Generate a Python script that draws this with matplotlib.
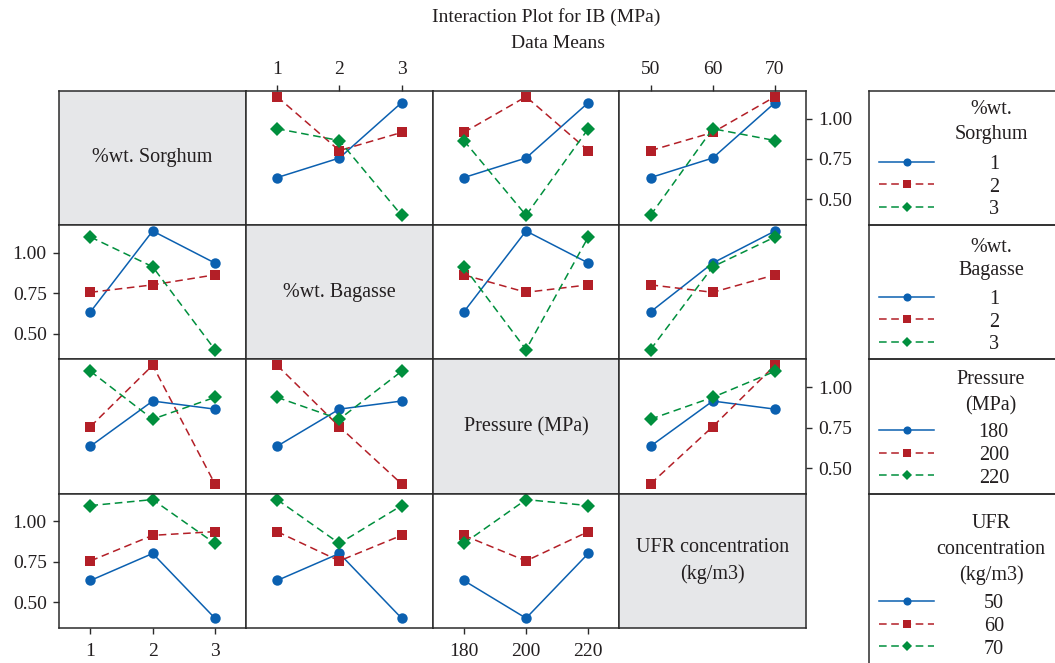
import pandas as pd
import matplotlib.pyplot as plt
from matplotlib.lines import Line2D

plt.rcParams['font.family'] = ['Liberation Serif', 'DejaVu Serif']

# L9 runs: factor levels and IB response (MPa)
sorghum = [1, 1, 1, 2, 2, 2, 3, 3, 3]
bagasse = [1, 2, 3, 1, 2, 3, 1, 2, 3]
pressure = [180, 200, 220, 200, 220, 180, 220, 180, 200]
ufr = [50, 60, 70, 70, 50, 60, 60, 70, 50]
ib = [0.635, 0.756, 1.098, 1.135, 0.802, 0.914, 0.937, 0.864, 0.402]

factor_cols = ["sorghum", "bagasse", "pressure", "ufr"]
factor_names = ["%wt. Sorghum", "%wt. Bagasse", "Pressure (MPa)",
                "UFR concentration\n(kg/m3)"]
legend_titles = ["%wt.\nSorghum", "%wt.\nBagasse", "Pressure\n(MPa)",
                 "UFR\nconcentration\n(kg/m3)"]
levels = {"sorghum": [1, 2, 3], "bagasse": [1, 2, 3],
          "pressure": [180, 200, 220], "ufr": [50, 60, 70]}

df = pd.DataFrame({"sorghum": sorghum, "bagasse": bagasse,
                   "pressure": pressure, "ufr": ufr, "ib": ib})

colors = ["#0b60b0", "#b31f27", "#008f3d"]
markers = ["o", "s", "D"]
styles = ["-", (0, (5, 3)), (0, (5, 3))]
msizes = [7.5, 7.5, 7.0]

W, H = 1055, 663
fig = plt.figure(figsize=(W / 100, H / 100), dpi=100)

x0, y0 = 59.3, 90.7
cw, rh = 186.7, 134.3
ylim = (0.342, 1.172)
text_col = "#231f20"

for i, rf in enumerate(factor_cols):
    for j, cf in enumerate(factor_cols):
        ax = fig.add_axes([(x0 + j * cw) / W, 1 - (y0 + (i + 1) * rh) / H,
                           cw / W, rh / H])
        for s in ax.spines.values():
            s.set_color("#2b2b2b")
            s.set_linewidth(1.1)
        ax.set_xlim(0.5, 3.5)
        ax.set_ylim(*ylim)
        ax.tick_params(direction="out", length=4, width=1, colors="#2b2b2b",
                       labelcolor=text_col, labelsize=14, pad=5)
        ax.set_xticks([]); ax.set_yticks([])
        if i == j:
            ax.set_facecolor("#e6e7e9")
            ax.text(0.5, 0.5, factor_names[i], transform=ax.transAxes,
                    ha="center", va="center", fontsize=14.5, color=text_col,
                    linespacing=1.5)
        else:
            means = df.groupby([rf, cf])["ib"].mean()
            for k, lv in enumerate(levels[rf]):
                yv = [means[(lv, c)] for c in levels[cf]]
                ax.plot([1, 2, 3], yv, color=colors[k], ls=styles[k],
                        lw=1.1, marker=markers[k], ms=msizes[k],
                        markeredgewidth=0)
        # x ticks on outer edges, alternating
        if i == 3 and j in (0, 2):
            ax.set_xticks([1, 2, 3], [str(v) for v in levels[cf]])
            ax.tick_params(axis="x", pad=7)
        if i == 0 and j in (1, 3):
            ax.set_xticks([1, 2, 3], [str(v) for v in levels[cf]])
            ax.xaxis.tick_top()
        if j == 0 and i in (1, 3):
            ax.set_yticks([0.5, 0.75, 1.0], ["0.50", "0.75", "1.00"])
        if j == 3 and i in (0, 2):
            ax.set_yticks([0.5, 0.75, 1.0], ["0.50", "0.75", "1.00"])
            ax.yaxis.tick_right()

# legend panel
lx = 869
leg_title_y = [[109, 134], [247.5, 271], [380, 405.5],
               [524, 549, 575]]
leg_entry_y = [161.7, 296.7, 430, 601]
text_pads = [2.7, 2.7, 2.2, 2.45]
for i in range(4):
    top = y0 + i * rh
    bot = top + rh if i < 3 else H + 20
    lax = fig.add_axes([lx / W, 1 - bot / H, (1130 - lx) / W, (bot - top) / H])
    lax.set_xticks([]); lax.set_yticks([])
    lax.patch.set_alpha(0)
    for s in lax.spines.values():
        s.set_color("#2b2b2b")
        s.set_linewidth(1.1)
    for t, yy in zip(legend_titles[i].split("\n"), leg_title_y[i]):
        fig.text(991 / W, 1 - yy / H, t, ha="center", va="center",
                 fontsize=14.5, color=text_col)
    handles = [Line2D([], [], color=colors[k], ls=styles[k], lw=1.1,
                      marker=markers[k], ms=msizes[k] * 0.78,
                      markeredgewidth=0) for k in range(3)]
    labels = [str(v) for v in levels[factor_cols[i]]]
    leg = lax.legend(handles, labels, loc="upper left",
                     bbox_to_anchor=(879 / W, 1 - (leg_entry_y[i] - 7) / H),
                     bbox_transform=fig.transFigure, frameon=False,
                     borderpad=0, borderaxespad=0, handlelength=2.75,
                     handletextpad=text_pads[i], labelspacing=0.18,
                     fontsize=14.5)
    for t in leg.get_texts():
        t.set_color(text_col)

fig.text(546 / W, 1 - 17 / H, "Interaction Plot for IB (MPa)", ha="center",
         va="center", fontsize=14, color=text_col)
fig.text(558 / W, 1 - 43 / H, "Data Means", ha="center", va="center",
         fontsize=14, color=text_col)

fig.savefig("out.png", dpi=100)
